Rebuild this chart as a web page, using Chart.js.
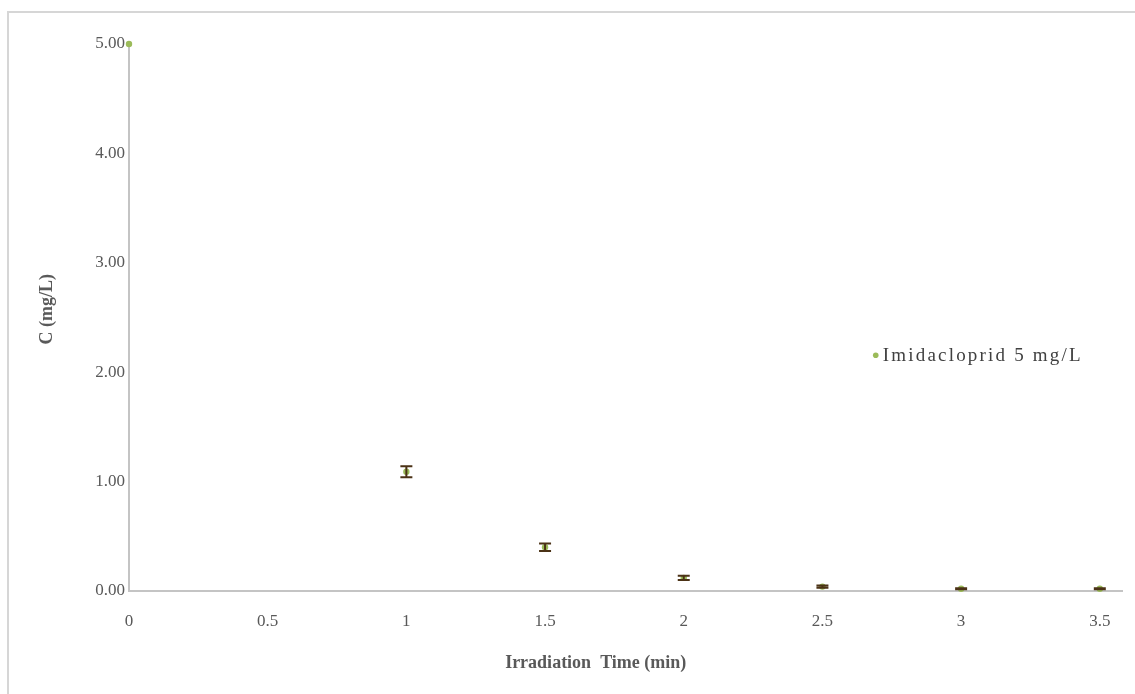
<!DOCTYPE html>
<html>
<head>
<meta charset="utf-8">
<script src="https://cdn.jsdelivr.net/npm/chart.js@4/dist/chart.umd.min.js"></script>
<style>
  html, body { margin: 0; padding: 0; background: #fff; overflow: hidden; }
  #wrap { position: absolute; left: 0; top: 0; width: 1135px; height: 694px; }
  #frame { position: absolute; left: 7px; top: 11px; width: 1140px; height: 700px;
           border-left: 2px solid #d6d6d6; border-top: 2px solid #d6d6d6; }
</style>
</head>
<body>
<div id="wrap">
  <div id="frame"></div>
  <canvas id="c" width="1135" height="694"></canvas>
</div>
<script>
// Irradiation time (min) and measured concentration (mg/L)
const times = [0, 1, 1.5, 2, 2.5, 3, 3.5];
const concentration = [5.00, 1.09, 0.40, 0.12, 0.04, 0.02, 0.02];
const errors = [0, 0.05, 0.035, 0.02, 0.01, 0.005, 0.005];
const seriesLabel = 'Imidacloprid 5 mg/L';
const xTitle = 'Irradiation  Time (min)';
const yTitle = 'C (mg/L)';

const serif = "'Liberation Serif', 'Times New Roman', serif";
const markerColor = '#9bbb59';
const errColor = '#4b3216';

// error bars drawn through the chart's own scales
const errorBars = {
  id: 'errorBars',
  afterDatasetsDraw(chart) {
    const { ctx, scales: { x, y } } = chart;
    ctx.save();
    ctx.strokeStyle = errColor;
    ctx.lineWidth = 2;
    times.forEach((t, i) => {
      if (!errors[i]) return;
      const px = x.getPixelForValue(t);
      const top = y.getPixelForValue(concentration[i] + errors[i]);
      const bot = y.getPixelForValue(Math.max(0, concentration[i] - errors[i]));
      ctx.beginPath();
      ctx.moveTo(px, top); ctx.lineTo(px, bot);
      ctx.moveTo(px - 6, top); ctx.lineTo(px + 6, top);
      ctx.moveTo(px - 6, bot); ctx.lineTo(px + 6, bot);
      ctx.stroke();
    });
    ctx.restore();
  }
};

// axis titles and the in-plot legend
const annotations = {
  id: 'annotations',
  afterDraw(chart) {
    const { ctx, chartArea: a } = chart;
    ctx.save();
    ctx.fillStyle = '#595959';
    ctx.font = "bold 18px " + serif;
    ctx.textAlign = 'center';
    ctx.textBaseline = 'middle';
    ctx.fillText(xTitle, a.left + (a.right - a.left) * 0.47, a.bottom + 72);
    ctx.translate(a.left - 82, a.top + (a.bottom - a.top) * 0.485);
    ctx.rotate(-Math.PI / 2);
    ctx.fillText(yTitle, 0, 0);
    ctx.restore();

    ctx.save();
    const lx = a.left + (a.right - a.left) * 0.752;
    const ly = a.top + (a.bottom - a.top) * 0.569;
    ctx.fillStyle = markerColor;
    ctx.beginPath();
    ctx.arc(lx, ly, 2.8, 0, Math.PI * 2);
    ctx.fill();
    ctx.fillStyle = '#404040';
    ctx.font = "19px " + serif;
    ctx.letterSpacing = '2.2px';
    ctx.textAlign = 'left';
    ctx.textBaseline = 'middle';
    ctx.fillText(seriesLabel, lx + 7, ly + 1);
    ctx.restore();
  }
};

new Chart(document.getElementById('c'), {
  type: 'scatter',
  data: {
    datasets: [{
      label: seriesLabel,
      data: times.map((t, i) => ({ x: t, y: concentration[i] })),
      backgroundColor: markerColor,
      borderColor: markerColor,
      pointRadius: 3.2,
      pointBorderWidth: 0,
      showLine: false,
      clip: false
    }]
  },
  options: {
    responsive: false,
    animation: false,
    layout: { padding: { left: 0, right: 13, top: 44, bottom: 0 } },
    plugins: { legend: { display: false }, tooltip: { enabled: false } },
    scales: {
      x: {
        type: 'linear', min: 0, max: 3.58,
        grid: { display: false, drawTicks: false },
        border: { color: '#c4c4c4', width: 2 },
        ticks: {
          stepSize: 0.5, includeBounds: false, padding: 20, color: '#595959',
          font: { family: serif, size: 17 },
          callback: v => String(v)
        },
        afterFit(s) { s.height = 103; s.paddingLeft = 0; s.paddingRight = 0; }
      },
      y: {
        min: 0, max: 5,
        grid: { display: false, drawTicks: false },
        border: { color: '#c4c4c4', width: 2 },
        ticks: {
          stepSize: 1, padding: 4, color: '#595959',
          font: { family: serif, size: 17 },
          callback: v => v.toFixed(2)
        },
        afterFit(s) { s.width = 129; s.paddingTop = 0; s.paddingBottom = 0; }
      }
    }
  },
  plugins: [errorBars, annotations]
});
</script>
</body>
</html>
